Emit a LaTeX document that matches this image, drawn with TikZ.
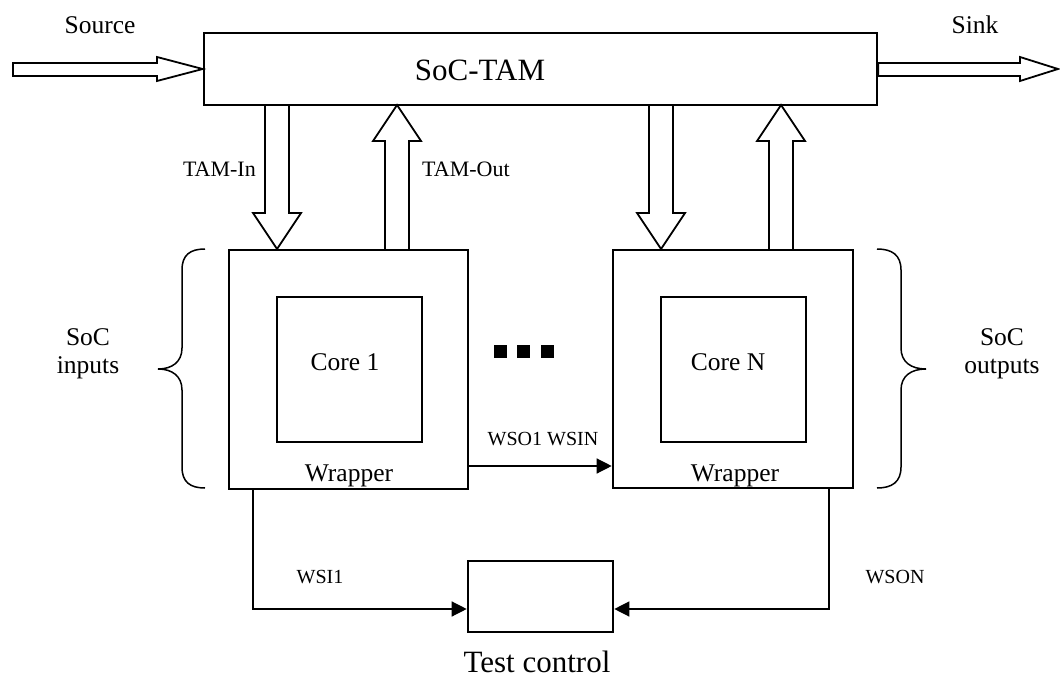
\documentclass[tikz,border=0pt]{standalone}
\usepackage{fontspec}
\setmainfont{Liberation Serif}
\usetikzlibrary{arrows.meta,calc}
\begin{document}
\begin{tikzpicture}[x=1pt,y=-1pt,
  thickbox/.style={draw, line width=2.6pt, inner sep=0pt, fill=white},
  thinbox/.style={draw, line width=1.6pt, inner sep=0pt},
  blockarrow/.style={draw, line width=1.8pt, fill=white, line join=miter},
  conn/.style={draw, line width=1.3pt, -{Triangle[length=15pt,width=15pt]}},
  plain/.style={draw, line width=1.3pt},
  bracestyle/.style={draw, line width=1.5pt},
  txtbig/.style={font=\fontsize{31}{34}\selectfont, inner sep=0pt},
  txtmid/.style={font=\fontsize{25.5}{28}\selectfont, inner sep=0pt},
  txtlab/.style={font=\fontsize{22}{24}\selectfont, inner sep=0pt},
  txtsmall/.style={font=\fontsize{20}{22}\selectfont, inner sep=0pt},
  sq/.style={fill=black, minimum size=13pt, inner sep=0pt}]
\useasboundingbox (0,0) rectangle (1060,682);

% main boxes
\node[thickbox, minimum width=673pt, minimum height=72pt] (tam) at (540.5,69) {};
\node[txtbig, anchor=base] (tamlabel) at (480,81) {SoC-TAM};

\node[thickbox, minimum width=239pt, minimum height=239pt] (w1) at (348.5,369.5) {};
\node[thickbox, minimum width=240pt, minimum height=238pt] (w2) at (733,369) {};
\node[thinbox, minimum width=145pt, minimum height=145pt] (c1) at (349.5,369.5) {};
\node[thinbox, minimum width=145pt, minimum height=145pt] (c2) at (733.5,369.5) {};
\node[txtmid] (c1l) at (345,362) {Core 1};
\node[txtmid] (c2l) at (728,362) {Core N};
\node[txtmid, anchor=base] (w1l) at (349,481) {Wrapper};
\node[txtmid, anchor=base] (w2l) at (735,481) {Wrapper};

\node[thickbox, minimum width=145pt, minimum height=71pt] (tc) at (540.5,596.5) {};
\node[txtbig, anchor=base] (tcl) at (537,672) {Test control};

% source / sink block arrows
\path[blockarrow] (13,63) -- (157,63) -- (157,57) -- (tam.west) -- (157,81) -- (157,76) -- (13,76) -- cycle;
\path[blockarrow] (tam.east |- 0,63) -- (1020,63) -- (1020,57) -- (1058,69) -- (1020,81) -- (1020,76) -- (tam.east |- 0,76) -- cycle;
\node[txtmid, anchor=base] (src) at (100,34) {Source};
\node[txtmid, anchor=base] (snk) at (975,34) {Sink};

% TAM arrows
\path[blockarrow] (265,105) -- (289,105) -- (289,213) -- (301,213) -- (277,249) -- (253,213) -- (265,213) -- cycle;
\path[blockarrow] (385,250) -- (409,250) -- (409,141) -- (421,141) -- (397,105) -- (373,141) -- (385,141) -- cycle;
\path[blockarrow] (649,105) -- (673,105) -- (673,213) -- (685,213) -- (661,249) -- (637,213) -- (649,213) -- cycle;
\path[blockarrow] (769,250) -- (793,250) -- (793,141) -- (805,141) -- (781,105) -- (757,141) -- (769,141) -- cycle;
\node[txtlab, anchor=east] (tin) at (256,169) {TAM-In};
\node[txtlab, anchor=west] (tout) at (422,169) {TAM-Out};

% dots
\node[sq] (d1) at (500,351) {};
\node[sq] (d2) at (523.5,351) {};
\node[sq] (d3) at (547,351) {};

% braces
\path[bracestyle] (205,249) .. controls (190,249) and (182,255) .. (182,270) -- (182,348)
  .. controls (182,362) and (172,369) .. (158,369)
  .. controls (172,369) and (182,376) .. (182,390) -- (182,467)
  .. controls (182,482) and (190,488) .. (205,488);
\path[bracestyle] (877,249) .. controls (892,249) and (901,255) .. (901,270) -- (901,348)
  .. controls (901,362) and (911,369) .. (926,369)
  .. controls (911,369) and (901,376) .. (901,390) -- (901,467)
  .. controls (901,482) and (892,488) .. (877,488);
\node[txtmid, align=center] (inl) at (88,354) {SoC\\inputs};
\node[txtmid, align=center] (outl) at (1002,354) {SoC\\outputs};

% scan connections
\draw[conn] (w1.east |- 0,466) -- (w2.west |- 0,466);
\node[txtsmall, anchor=base] (wso) at (543,445) {WSO1 WSIN};
\draw[conn] (w1.south -| 253,0) |- (tc.west |- 0,609);
\draw[conn] (w2.south -| 829,0) |- (tc.east |- 0,609);
\node[txtsmall, anchor=base] (wsi) at (320,583) {WSI1};
\node[txtsmall, anchor=base] (wson) at (895,583) {WSON};
\end{tikzpicture}
\end{document}
